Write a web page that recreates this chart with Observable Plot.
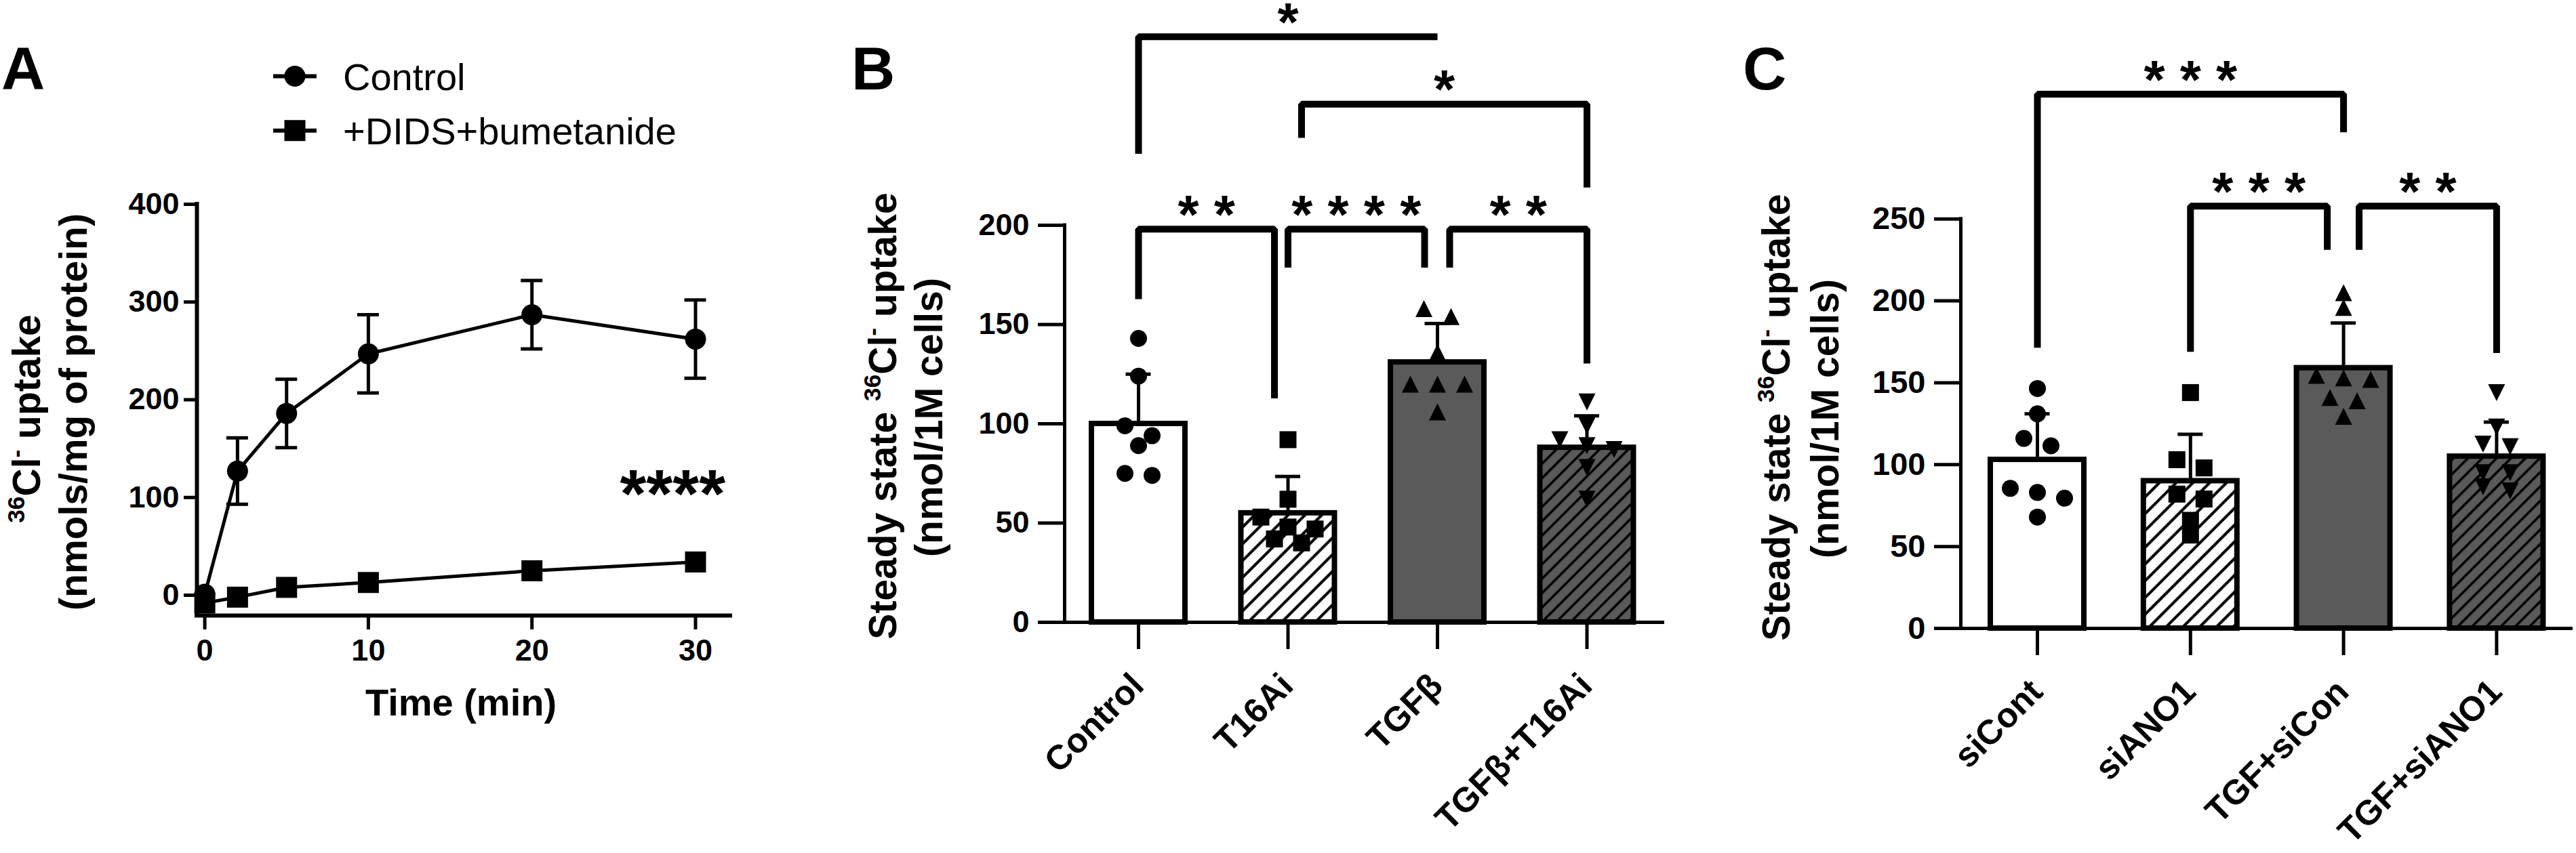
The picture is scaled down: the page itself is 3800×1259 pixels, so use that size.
<!DOCTYPE html>
<html>
<head>
<meta charset="utf-8">
<script src="https://cdn.jsdelivr.net/npm/d3@7"></script>
<script src="https://cdn.jsdelivr.net/npm/@observablehq/plot@0.6"></script>
<style>
  html, body { margin: 0; padding: 0; background: #fff; }
  #fig { position: relative; width: 3800px; height: 1259px; overflow: hidden; background: #fff; }
  #fig > svg { position: absolute; left: 0; top: 0; }
</style>
</head>
<body>
<div id="fig"></div>
<script>
// ---------------- Panel A data ----------------
const timeMin     = [0, 2, 5, 10, 20, 30];
const controlMean = [1, 127, 186, 247, 287, 262];
const controlSD   = [0, 34, 35, 40, 35, 40];
const didsMean    = [-8, -2, 8, 13, 25, 34];
const didsSD      = [0, 0, 0, 0, 0, 0];
const seriesA     = ["Control", "+DIDS+bumetanide"];
const yTicksA     = [0, 100, 200, 300, 400];
const xTicksA     = [0, 10, 20, 30];
const annotA      = [{t: 28.6, v: 119, text: "****"}];

// ---------------- Panel B data ----------------
const catsB   = ["Control", "T16Ai", "TGFβ", "TGFβ+T16Ai"];
const meansB  = [100, 55, 131, 88];
const sdB     = [25, 18.5, 19.5, 16];
const pointsB = [
  [143, 124, 99, 94, 89, 75, 74],
  [92, 62, 53, 48, 47, 42, 40],
  [158, 154, 136, 120, 120, 120, 106],
  [111, 99, 92, 89, 87, 78, 62]
];
const yTicksB = [0, 50, 100, 150, 200];
// brackets: groups a-b, bar level, leg ends (data units), label
const bracketsB = [
  {a: 0, b: 1, level: 198, legA: 162.8, legB: 112.8, gapA: 0,  gapB: 20, label: "* *"},
  {a: 1, b: 2, level: 198, legA: 178.7, legB: 178.7, gapA: 0,  gapB: 19, label: "* * * *"},
  {a: 2, b: 3, level: 198, legA: 178.7, legB: 130.4, gapA: 18, gapB: 0,  label: "* *"},
  {a: 1, b: 3, level: 261, legA: 244,   legB: 219,   gapA: 20, gapB: 0,  label: "*"},
  {a: 0, b: 2, level: 295, legA: 236,   legB: 295,   gapA: 0,  gapB: 0,  label: "*"}
];

// ---------------- Panel C data ----------------
const catsC   = ["siCont", "siANO1", "TGF+siCon", "TGF+siANO1"];
const meansC  = [103, 90, 159, 105];
const sdC     = [28, 28.5, 27.5, 21];
const pointsC = [
  [146.5, 131, 116, 111.5, 85.5, 83, 79.5, 68],
  [144, 103, 98, 82, 79, 66, 57],
  [205, 196, 154.5, 153, 152, 141, 139, 129.5],
  [144, 123, 112.5, 111, 95, 95, 86.5, 84]
];
const yTicksC = [0, 50, 100, 150, 200, 250];
const bracketsC = [
  {a: 0, b: 2, level: 326.2, legA: 171.4, legB: 302.9, gapA: 0,  gapB: 0,  label: "* * *"},
  {a: 1, b: 2, level: 257.8, legA: 168.9, legB: 231.2, gapA: 0,  gapB: 24, label: "* * *"},
  {a: 2, b: 3, level: 257.8, legA: 231.2, legB: 168.2, gapA: 23, gapB: 0,  label: "* *"}
];

// ---------------- styles ----------------
const FONT = "'Liberation Sans', Arial, Helvetica, sans-serif";
const GRAY = "#5a5a5a";
const fillsBar = ["white", "url(#hatchW)", GRAY, "url(#hatchG)"];

const sq = {draw(ctx, size) { const r = Math.sqrt(size / Math.PI);
  ctx.moveTo(-r, -r); ctx.lineTo(r, -r); ctx.lineTo(r, r); ctx.lineTo(-r, r); ctx.closePath(); }};
const triUp = {draw(ctx, size) { const r = Math.sqrt(size / Math.PI);
  ctx.moveTo(0, -r); ctx.lineTo(r, r); ctx.lineTo(-r, r); ctx.closePath(); }};
const triDown = {draw(ctx, size) { const r = Math.sqrt(size / Math.PI);
  ctx.moveTo(0, r); ctx.lineTo(r, -r); ctx.lineTo(-r, -r); ctx.closePath(); }};
const symbolsBar = ["circle", sq, triUp, triDown];

const W = 3800, H = 1259;
const fig = document.getElementById("fig");
const baseStyle = {fontFamily: FONT, background: "transparent", overflow: "visible", color: "black"};

// ---------------- Panel A ----------------
const LA = {left: 290, right: 1077, top: 301, bottom: 908, x0: 301.6, pxX: 24.13, y0: 878};
LA.pxY = (LA.y0 - LA.top) / yTicksA[yTicksA.length - 1];
const xdA = [(LA.left - LA.x0) / LA.pxX, (LA.right - LA.x0) / LA.pxX];
const ydA = [-(LA.bottom - LA.y0) / LA.pxY, (LA.y0 - LA.top) / LA.pxY];
const rowsA = seriesA.flatMap((s, si) => timeMin.map((t, i) => ({
  s, t, v: si ? didsMean[i] : controlMean[i], sd: si ? didsSD[i] : controlSD[i]})));
const ctrlA = rowsA.filter(d => d.s === seriesA[0]);
const didsA = rowsA.filter(d => d.s === seriesA[1]);
const errA = rowsA.filter(d => d.sd > 0);

const plotA = Plot.plot({
  width: W, height: H,
  marginLeft: LA.left, marginRight: W - LA.right, marginTop: LA.top, marginBottom: H - LA.bottom,
  x: {domain: xdA}, y: {domain: ydA},
  style: baseStyle,
  marks: [
    Plot.ruleX([xdA[0]], {y1: ydA[0], y2: yTicksA[yTicksA.length - 1], strokeWidth: 6, strokeLinecap: "square"}),
    Plot.ruleY([ydA[0]], {x1: xdA[0], x2: xdA[1], strokeWidth: 6, strokeLinecap: "square"}),
    Plot.axisY({ticks: yTicksA, tickSize: 19, tickPadding: 7, fontSize: 45, fontWeight: "bold", strokeWidth: 5, label: null}),
    Plot.axisX({ticks: xTicksA, tickSize: 21, tickPadding: 14, fontSize: 45, fontWeight: "bold", strokeWidth: 5, label: null}),
    Plot.ruleX(errA, {x: "t", y1: d => d.v - d.sd, y2: d => d.v + d.sd, strokeWidth: 5}),
    Plot.ruleY(errA, {y: d => d.v + d.sd, x1: "t", x2: "t", insetLeft: -16, insetRight: -16, strokeWidth: 5}),
    Plot.ruleY(errA, {y: d => d.v - d.sd, x1: "t", x2: "t", insetLeft: -16, insetRight: -16, strokeWidth: 5}),
    Plot.line(ctrlA, {x: "t", y: "v", strokeWidth: 5}),
    Plot.line(didsA, {x: "t", y: "v", strokeWidth: 5}),
    Plot.dot(ctrlA, {x: "t", y: "v", r: 15.5, symbol: "circle", fill: "black"}),
    Plot.dot(didsA, {x: "t", y: "v", r: 15.5, symbol: sq, fill: "black"}),
    Plot.text(annotA, {x: "t", y: "v", text: "text", fontSize: 100, fontWeight: "bold", dy: 24})
  ]
});
fig.appendChild(plotA);

// ---------------- bar panels ----------------
function spread(vals, pxPerUnit, T = 20, step = 40) {
  const idx = vals.map((v, i) => i).sort((a, b) => vals[b] - vals[a]);
  const off = new Array(vals.length).fill(0);
  let k = 0;
  while (k < idx.length) {
    const row = [idx[k]]; let j = k + 1;
    while (j < idx.length && (vals[idx[k]] - vals[idx[j]]) * pxPerUnit < T) { row.push(idx[j]); j++; }
    row.forEach((ii, m) => off[ii] = (m - (row.length - 1) / 2) * step);
    k = j;
  }
  return off;
}

function barPanel(cfg) {
  const {cats, means, sds, points, yTicks, L, brackets, tickFont} = cfg;
  const yMax = yTicks[yTicks.length - 1];
  const xd = [(L.left - L.x0) / L.step, (L.right - L.x0) / L.step];
  const pxPerUnit = (L.bottom - L.top) / yMax;
  const bars = cats.map((c, i) => ({i, c, m: means[i], top: means[i] + sds[i]}));
  const dots = points.flatMap((vals, i) => {
    const off = spread(vals, pxPerUnit);
    return vals.map((v, k) => ({i, v, x: i + off[k] / L.step}));
  });
  const bl = brackets.flatMap((b, bi) => {
    const xa = b.a + b.gapA / L.step, xb = b.b - b.gapB / L.step;
    return [{id: bi, x: xa, y: b.legA}, {id: bi, x: xa, y: b.level}, {id: bi, x: xb, y: b.level}, {id: bi, x: xb, y: b.legB}];
  });
  const stars = brackets.map(b => ({label: b.label, y: b.level,
    x: (b.a + b.gapA / L.step + b.b - b.gapB / L.step) / 2}));
  return Plot.plot({
    width: W, height: H,
    marginLeft: L.left, marginRight: W - L.right, marginTop: L.top, marginBottom: H - L.bottom,
    x: {domain: xd}, y: {domain: [0, yMax]},
    style: baseStyle,
    marks: [
      ...bars.map(b => Plot.rect([b], {x1: "i", x2: "i", y1: () => 0, y2: "m", insetLeft: -69, insetRight: -69,
        fill: fillsBar[b.i], stroke: "black", strokeWidth: 8})),
      Plot.ruleX(bars, {x: "i", y1: "m", y2: "top", strokeWidth: 5}),
      Plot.ruleY(bars, {y: "top", x1: "i", x2: "i", insetLeft: -18.5, insetRight: -18.5, strokeWidth: 5}),
      ...cats.map((c, i) => Plot.dot(dots.filter(d => d.i === i), {x: "x", y: "v", r: 12.5, symbol: symbolsBar[i], fill: "black"})),
      Plot.ruleX([xd[0]], {y1: 0, y2: yMax, strokeWidth: 5, strokeLinecap: "square"}),
      Plot.ruleY([0], {x1: xd[0], x2: xd[1], strokeWidth: 5}),
      Plot.axisY({ticks: yTicks, tickSize: 39, tickPadding: 13, fontSize: tickFont, fontWeight: "bold", strokeWidth: 5, label: null}),
      Plot.axisX({ticks: cats.map((c, i) => i), tickSize: 40, tickFormat: () => "", strokeWidth: 5, label: null}),
      Plot.text(bars, {x: "i", y: () => 0, text: "c", rotate: -45, textAnchor: "end", dx: -1, dy: 85,
        fontSize: 51, fontWeight: "bold"}),
      Plot.line(bl, {x: "x", y: "y", z: "id", strokeWidth: 10, strokeLinejoin: "miter", strokeLinecap: "butt"}),
      Plot.text(stars, {x: "x", y: "y", text: "label", fontSize: 80, fontWeight: "bold", dy: -20})
    ]
  });
}

const LB = {left: 1570, right: 2455, top: 332, bottom: 918, x0: 1679, step: 220.5};
const plotB = barPanel({cats: catsB, means: meansB, sds: sdB, points: pointsB, yTicks: yTicksB, L: LB, brackets: bracketsB, tickFont: 45});
fig.appendChild(plotB);

const LC = {left: 2892, right: 3795, top: 322.7, bottom: 927, x0: 3005, step: 225.8};
const plotC = barPanel({cats: catsC, means: meansC, sds: sdC, points: pointsC, yTicks: yTicksC, L: LC, brackets: bracketsC, tickFont: 47});
fig.appendChild(plotC);

// ---------------- hatch patterns ----------------
const defs = d3.select(plotB).insert("defs", ":first-child");
function hatch(id, bg, spacing, lw) {
  const p = defs.append("pattern").attr("id", id).attr("patternUnits", "userSpaceOnUse")
    .attr("width", spacing).attr("height", spacing).attr("patternTransform", "rotate(45)");
  p.append("rect").attr("width", spacing).attr("height", spacing).attr("fill", bg);
  p.append("line").attr("x1", spacing / 2).attr("x2", spacing / 2).attr("y1", -1).attr("y2", spacing + 1)
    .attr("stroke", "black").attr("stroke-width", lw);
}
hatch("hatchW", "white", 17.5, 4.2);
hatch("hatchG", GRAY, 15, 3.6);

// ---------------- text annotations ----------------
function addText(svg, x, y, str, size, weight, anchor = "start") {
  return d3.select(svg).append("text").attr("x", x).attr("y", y).attr("font-family", FONT)
    .attr("font-size", size).attr("font-weight", weight).attr("text-anchor", anchor).attr("fill", "black").text(str);
}
function addYTitle(svg, x, y, parts, size) {
  const t = d3.select(svg).append("text")
    .attr("transform", `translate(${x},${y}) rotate(-90)`)
    .attr("text-anchor", "middle").attr("font-family", FONT).attr("font-weight", "bold")
    .attr("font-size", size).attr("fill", "black").style("white-space", "pre");
  let shifted = 0;
  for (const p of parts) {
    const target = p.sup ? -0.4 * size : 0;
    const ts = t.append("tspan").attr("dy", target - shifted).text(p.text);
    shifted = target;
    if (p.sup) ts.attr("font-size", size * 0.62);
  }
}
const titleSteady = [{text: "Steady state "}, {text: "36", sup: true}, {text: "Cl"}, {text: "-", sup: true}, {text: " uptake"}];
const titleA1 = [{text: "36", sup: true}, {text: "Cl"}, {text: "-", sup: true}, {text: " uptake"}];

addText(plotA, 2, 132, "A", 89, "bold");
addText(plotB, 1256, 132, "B", 89, "bold");
addText(plotC, 2571, 132, "C", 89, "bold");

addYTitle(plotA, 59, 618, titleA1, 57);
addYTitle(plotA, 128, 608, [{text: "(nmols/mg of protein)"}], 57);
addText(plotA, 680, 1056, "Time (min)", 56, "bold", "middle");

addYTitle(plotB, 1322, 614, titleSteady, 57);
addYTitle(plotB, 1390, 616, [{text: "(nmol/1M cells)"}], 57);
addYTitle(plotC, 2640, 616, titleSteady, 57);
addYTitle(plotC, 2712, 618, [{text: "(nmol/1M cells)"}], 57);

// legend for panel A
const lg = d3.select(plotA).append("g").attr("text-anchor", "start");
[[112.4, "circle"], [192.7, "square"]].forEach(([y, shape], i) => {
  lg.append("line").attr("x1", 403).attr("x2", 467).attr("y1", y).attr("y2", y).attr("stroke", "black").attr("stroke-width", 6);
  if (shape === "circle") lg.append("circle").attr("cx", 435).attr("cy", y).attr("r", 15.5).attr("fill", "black");
  else lg.append("rect").attr("x", 435 - 15.5).attr("y", y - 15.5).attr("width", 31).attr("height", 31).attr("fill", "black");
  lg.append("text").attr("x", 506).attr("y", y + 20.3).attr("font-family", FONT).attr("font-size", 56)
    .attr("text-anchor", "start").attr("fill", "black").text(seriesA[i]);
});
</script>
</body>
</html>
